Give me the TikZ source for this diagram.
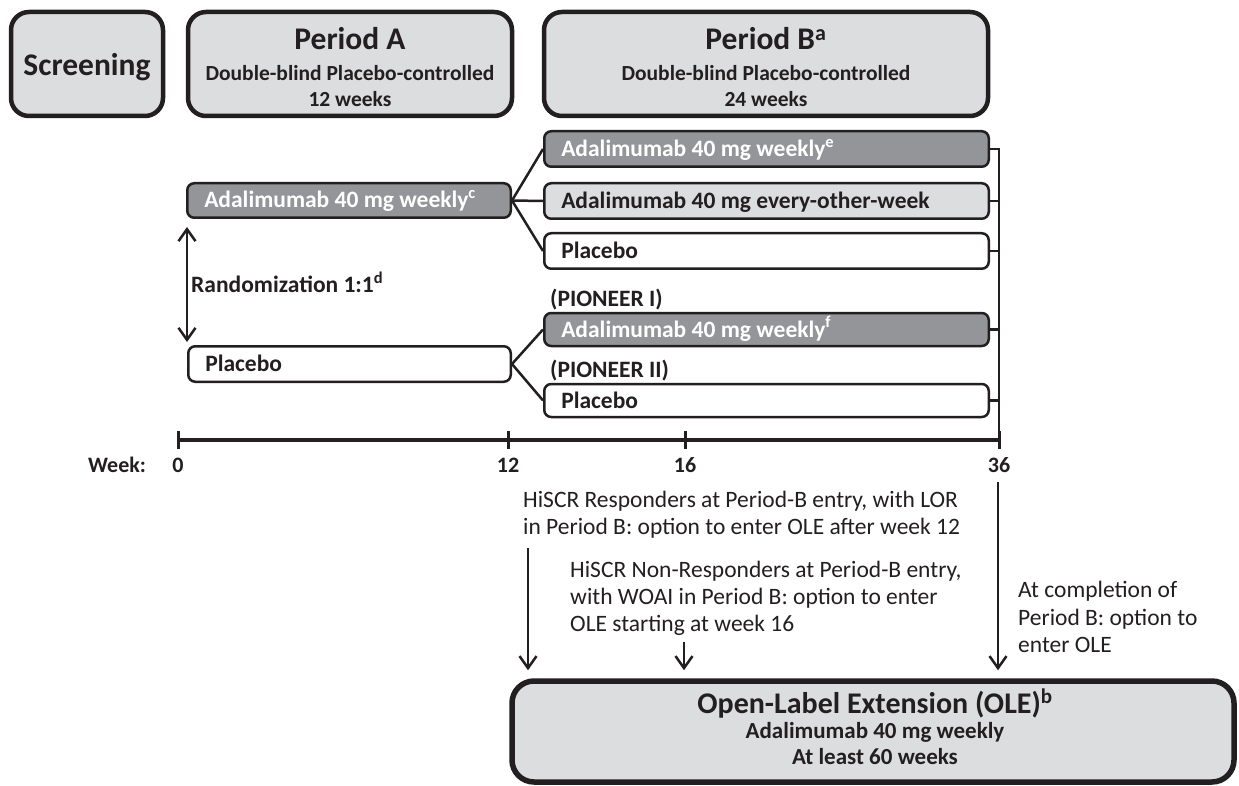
\documentclass[tikz,border=0pt]{standalone}
\usepackage{fontspec}
\setmainfont{Carlito}
\usetikzlibrary{arrows.meta}
\definecolor{ink}{HTML}{231F20}
\definecolor{darkg}{HTML}{939598}
\definecolor{lightg}{HTML}{DCDDDE}
\newcommand\armfont{\fontsize{23.5}{27}\selectfont\bfseries}
\newcommand\ttlfont{\fontsize{31.5}{34}\selectfont\bfseries}
\newcommand\psubfont{\fontsize{21.5}{25}\selectfont\bfseries}
\newcommand\wkfont{\fontsize{22}{25}\selectfont\bfseries}
\newcommand\notefont{\fontsize{23.5}{27}\selectfont}
\newcommand\olesubfont{\fontsize{23}{26}\selectfont\bfseries}
\tikzset{
  topbox/.style={draw=ink, fill=lightg, line width=4.5pt, rounded corners=18pt, inner sep=0pt},
  armbox/.style={draw=ink, line width=2.5pt, rounded corners=7pt, inner xsep=17pt, inner ysep=0pt,
    text height=15pt, text depth=0pt, align=flush left, font=\armfont},
  darkarm/.style={armbox, fill=darkg, text=white},
  lightarm/.style={armbox, fill=lightg, text=ink},
  whitearm/.style={armbox, fill=white, text=ink},
  conn/.style={draw=ink, line width=2.5pt},
  tipbarb/.tip={Straight Barb[length=12pt,width=17pt]},
  arr/.style={draw=ink, line width=2.5pt, -tipbarb},
  txt/.style={inner sep=0pt, text=ink},
  lbl/.style={txt, anchor=base west},
  ctr/.style={txt, anchor=base},
}
\begin{document}
\begin{tikzpicture}[x=1pt,y=-1pt]
\useasboundingbox (0,0) rectangle (1239,786);
\fill[white] (0,0) rectangle (1239,786);

% header boxes
\node[topbox, minimum width=152pt, minimum height=104pt] (scr) at (87,64) {};
\node[ctr, font=\ttlfont] (scrT) at (87,76) {Screening};
\node[topbox, minimum width=324pt, minimum height=104pt] (pa) at (350,64) {};
\node[ctr, font=\ttlfont] (paT) at (350,50) {Period A};
\node[ctr, font=\psubfont] (paS) at (350,81) {Double-blind Placebo-controlled};
\node[ctr, font=\psubfont] (paW) at (350,107) {12 weeks};
\node[topbox, minimum width=444pt, minimum height=104pt] (pb) at (766,64) {};
\node[ctr, font=\ttlfont] (pbT) at (766,50) {Period B\textsuperscript{a}};
\node[ctr, font=\psubfont] (pbS) at (766,81) {Double-blind Placebo-controlled};
\node[ctr, font=\psubfont] (pbW) at (766,107) {24 weeks};

% Period A arms
\node[darkarm, minimum width=323.5pt, minimum height=34.5pt, text width=289.5pt] (aw) at (349,200.5) {Adalimumab 40 mg weekly\textsuperscript{c}};
\node[whitearm, minimum width=322.5pt, minimum height=35.5pt, text width=288.5pt] (pl) at (349.5,364) {Placebo};

% Period B arms
\node[darkarm, minimum width=444.5pt, minimum height=35.5pt, text width=410.5pt] (b1) at (766.5,149) {Adalimumab 40 mg weekly\textsuperscript{e}};
\node[lightarm, minimum width=444.5pt, minimum height=35.5pt, text width=410.5pt] (b2) at (766.5,201) {Adalimumab 40 mg every-other-week};
\node[whitearm, minimum width=444.5pt, minimum height=35.5pt, text width=410.5pt] (b3) at (766.5,251) {Placebo};
\node[darkarm, minimum width=444.5pt, minimum height=33pt, text width=410.5pt] (b4) at (766.5,329.5) {Adalimumab 40 mg weekly\textsuperscript{f}};
\node[whitearm, minimum width=444.5pt, minimum height=33pt, text width=410.5pt] (b5) at (766.5,400.5) {Placebo};

\node[lbl, font=\armfont] (p1) at (550,306) {(PIONEER I)};
\node[lbl, font=\armfont] (p2) at (550,377) {(PIONEER II)};

% randomization
\node[lbl, font=\armfont] (rnd) at (191,293) {Randomization 1:1\textsuperscript{d}};
\coordinate (rt) at (187,227);
\coordinate (rb) at (187,342);
\draw[conn, tipbarb-tipbarb] (rt) -- (rb);

% branch connectors
\draw[conn] (aw.east) -- (b1.west);
\draw[conn] (aw.east) -- (b2.west);
\draw[conn] (aw.east) -- (b3.west);
\draw[conn] (pl.east) -- (b4.west);
\draw[conn] (pl.east) -- (b5.west);

% timeline
\coordinate (t0) at (178,440);
\coordinate (t12) at (508,440);
\coordinate (t16) at (685,440);
\coordinate (t36) at (999,440);
\draw[draw=ink, line width=4pt] (t0) -- (t36);
\foreach \t in {t0,t12,t16,t36}
  \draw[draw=ink, line width=3pt] ([yshift=-9pt]\t) -- ([yshift=9pt]\t);

% bracket on the right
\draw[conn] (b1.east) -- (b1.east -| t36) -- (t36);
\foreach \b in {b2,b3,b4,b5}
  \draw[conn] (\b.east) -- (\b.east -| t36);

% week labels
\node[ctr, font=\wkfont] (wk) at (117,472) {Week:};
\node[ctr, font=\wkfont] (w0) at (178,472) {0};
\node[ctr, font=\wkfont] (w12) at (508,472) {12};
\node[ctr, font=\wkfont] (w16) at (685,472) {16};
\node[ctr, font=\wkfont] (w36) at (999,472) {36};

% notes
\node[lbl, font=\notefont] (r1) at (523,507) {HiSCR Responders at Period-B entry, with LOR};
\node[lbl, font=\notefont] (r2) at (523,534) {in Period B: option to enter OLE after week 12};
\node[lbl, font=\notefont] (n1) at (570,577) {HiSCR Non-Responders at Period-B entry,};
\node[lbl, font=\notefont] (n2) at (570,604) {with WOAI in Period B: option to enter};
\node[lbl, font=\notefont] (n3) at (570,631) {OLE starting at week 16};
\node[lbl, font=\notefont] (c1) at (1018,597) {At completion of};
\node[lbl, font=\notefont] (c2) at (1018,625) {Period B: option to};
\node[lbl, font=\notefont] (c3) at (1018,652) {enter OLE};

% OLE box
\node[draw=ink, fill=lightg, line width=5.5pt, rounded corners=22pt, minimum width=722pt, minimum height=101pt, inner sep=0pt] (ole) at (873,731.5) {};
\node[ctr, font=\fontsize{30}{33}\selectfont\bfseries] (oleT) at (875,713) {Open-Label Extension (OLE)\textsuperscript{b}};
\node[ctr, font=\olesubfont] (oleS) at (875,738) {Adalimumab 40 mg weekly};
\node[ctr, font=\olesubfont] (oleW) at (875,764) {At least 60 weeks};

% arrows into OLE
\coordinate (a1s) at (528,548);
\coordinate (a2s) at (684,642);
\coordinate (a3s) at (998,482);
\draw[arr, shorten >=8pt] (a1s) -- (a1s |- ole.north);
\draw[arr, shorten >=8pt] (a2s) -- (a2s |- ole.north);
\draw[arr, shorten >=8pt] (a3s) -- (a3s |- ole.north);
\end{tikzpicture}
\end{document}
